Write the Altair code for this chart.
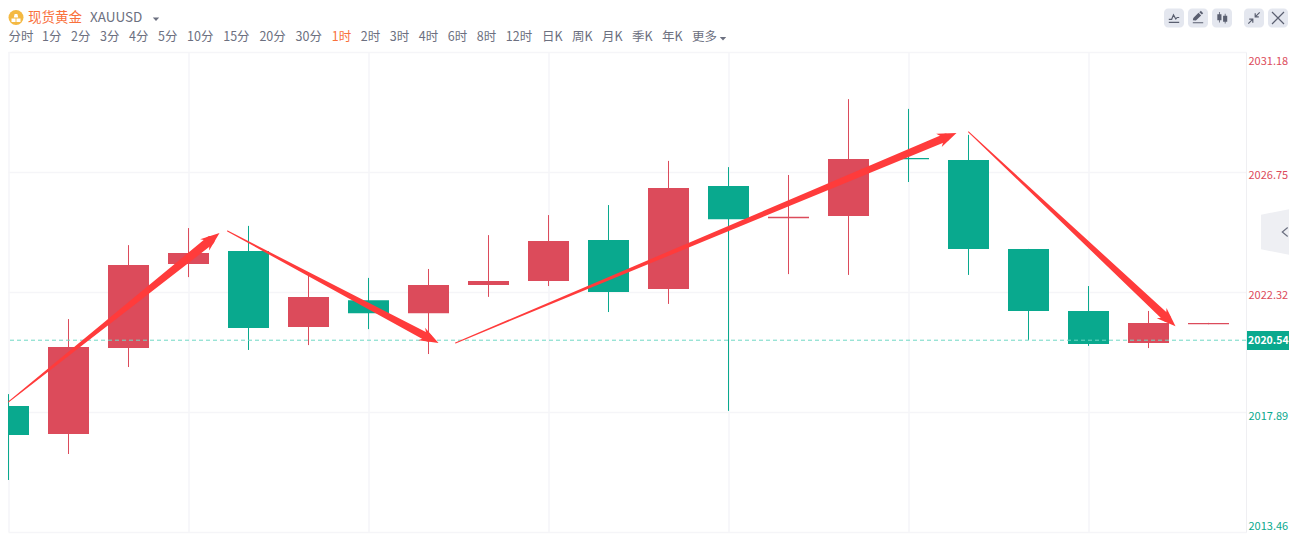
import math
import altair as alt
import pandas as pd

# ---- values ----
highs = [2018.55, 2021.32, 2024.05, 2024.68, 2024.76, 2022.95, 2022.84, 2023.17, 2024.42, 2025.16, 2025.53,
         2027.16, 2026.93, 2026.64, 2029.44, 2029.08, 2028.12, 2023.91, 2022.54, 2021.62, 2021.18]
lows = [2015.38, 2016.34, 2019.55, 2022.87, 2020.18, 2020.36, 2020.95, 2020.03, 2022.14, 2022.54, 2021.58,
        2021.88, 2017.93, 2022.98, 2022.95, 2026.38, 2022.95, 2020.55, 2020.33, 2020.25, 2021.13]
tops = [2018.11, 2020.29, 2023.32, 2023.76, 2023.83, 2022.14, 2022.02, 2022.58, 2022.73, 2024.20, 2024.24,
        2026.16, 2026.23, 2025.10, 2027.23, 2027.27, 2027.19, 2023.91, 2021.62, 2021.18, 2021.18]
bottoms = [2017.04, 2017.08, 2020.25, 2023.35, 2020.99, 2021.03, 2021.54, 2021.54, 2022.58, 2022.73, 2022.32,
           2022.43, 2025.01, 2025.04, 2025.13, 2027.22, 2023.91, 2021.62, 2020.40, 2020.44, 2021.13]
sides = ["d", "u", "u", "u", "d", "u", "d", "u", "u", "u", "d", "u", "d", "u", "u", "d", "d", "d", "d", "u", "u"]
price_ticks = [2031.18, 2026.75, 2022.32, 2017.89, 2013.46]
last_price = 2020.54
tabs = ["分时", "1分", "2分", "3分", "4分", "5分", "10分", "15分", "20分", "30分", "1时", "2时", "3时", "4时",
        "6时", "8时", "12时", "日K", "周K", "月K", "季K", "年K", "更多"]
active_tab = "1时"
# hand-drawn annotation arrows: (bar index, price) of tail, neck, tip
arrow_tail_i = [0.0, 3.65, 7.45, 16.0]
arrow_tail_p = [2018.26, 2024.57, 2020.44, 2028.23]
arrow_neck_i = [3.36, 6.99, 15.615, 19.30]
arrow_neck_p = [2024.22, 2020.64, 2028.02, 2021.37]
arrow_tip_i = [3.517, 7.167, 15.8, 19.45]
arrow_tip_p = [2024.50, 2020.44, 2028.19, 2021.06]
arrow_width = [9, 8, 8, 8]

RED, GREEN, ARROW = "#dc4b5b", "#09a98e", "#ff3b3b"
GRAY, ORANGE, ICON = "#6c7080", "#f9713c", "#5a5f70"
FONT = "Noto Sans CJK SC"
# page geometry: the svg starts at page (8, 8) and may reach page x = 1289
LEFT, TOP = 8, 52
PLOT_W, PLOT_H = 1238, 480
PX_PER_BAR, PX_PER_UNIT = 60, 480 / (price_ticks[0] - price_ticks[-1])

candles = pd.DataFrame({"i": range(len(highs)), "high": highs, "low": lows, "top": tops,
                        "bottom": bottoms, "side": sides})
color = alt.Color("side:N", scale=alt.Scale(domain=["u", "d"], range=[RED, GREEN]), legend=None)

# half a pixel of lead-in keeps the 1px wicks on whole pixels
x_start = -0.5 / PX_PER_BAR
x_scale = alt.Scale(domain=[x_start, x_start + PLOT_W / PX_PER_BAR], nice=False, zero=False, padding=0)
y_scale = alt.Scale(domain=[price_ticks[-1], price_ticks[0]], nice=False, zero=False)
xe = lambda f: alt.X(f, type="quantitative", scale=x_scale, axis=None)
ye = lambda f: alt.Y(f, type="quantitative", scale=y_scale, axis=None)
one = pd.DataFrame({"n": [0]})

layers = []
# grid + price axis
layers.append(alt.Chart(candles).mark_rule(opacity=0).encode(
    x=alt.X("i:Q", scale=x_scale, axis=alt.Axis(values=list(range(0, 19, 3)), grid=True, gridColor="#f5f5f8",
                                                 gridWidth=1.5, labels=False, ticks=False, domain=False, title=None,
                                                 translate=0)),
    y=alt.Y("high:Q", scale=y_scale, axis=alt.Axis(
        values=price_ticks, orient="right", grid=True, gridColor="#f5f5f8", gridWidth=1.5, ticks=False,
        domain=True, domainColor="#efeff2", title=None, format=".2f", labelPadding=2, labelFont=FONT,
        labelFontSize=11, labelOverlap=False, labelBound=False, labelFlush=False,
        labelOffset=alt.expr("datum.value>2030?9:datum.value<2014?-6:datum.value<2018?4:3"),
        labelColor=alt.expr(f"datum.value>{last_price}?'{RED}':'{GREEN}'"))),
))
# candles
layers.append(alt.Chart(candles).mark_rule(strokeWidth=1, clip=True).encode(x=xe("i"), y=ye("low"), y2="high", color=color))
layers.append(alt.Chart(candles).mark_bar(size=41, clip=True).encode(x=xe("i"), y=ye("bottom"), y2="top", color=color))
# last price line
layers.append(alt.Chart(pd.DataFrame({"p": [last_price]})).mark_rule(strokeDash=[4, 3], color="#6fd8c4", strokeWidth=1)
              .encode(y=ye("p")))

# arrows: tapered shaft + barbed head
HEAD = "M0 0 L.75 2 L.15 1.5 L-.15 1.5 L-.75 2 Z"
shaft = []
for a in range(4):
    shaft += [dict(a=a, o=0, i=arrow_tail_i[a], p=arrow_tail_p[a], s=1.0),
              dict(a=a, o=1, i=arrow_neck_i[a], p=arrow_neck_p[a], s=arrow_width[a])]
layers.append(alt.Chart(pd.DataFrame(shaft)).mark_trail(color=ARROW).encode(
    x=xe("i"), y=ye("p"), detail="a:N", order="o:Q", size=alt.Size("s:Q", scale=None, legend=None)))
for a in range(4):
    dx = (arrow_tip_i[a] - arrow_tail_i[a]) * PX_PER_BAR
    dy = (arrow_tip_p[a] - arrow_tail_p[a]) * PX_PER_UNIT
    heading = math.degrees(math.atan2(dx, dy)) % 360
    tip = pd.DataFrame({"i": [arrow_tip_i[a]], "p": [arrow_tip_p[a]]})
    layers.append(alt.Chart(tip).mark_point(shape=HEAD, size=19 ** 2, filled=True, fill=ARROW, opacity=1,
                                            strokeWidth=0, angle=heading).encode(x=xe("i"), y=ye("p")))


def text(s, px, py, size=12.5, col=GRAY, weight="normal", align="left"):
    return alt.Chart(one).mark_text(font=FONT, fontSize=size, color=col, align=align, baseline="middle",
                                    fontWeight=weight).encode(
        x=alt.value(px - LEFT), y=alt.value(py - TOP), text=alt.value(s))


def shape(path, px, py, r, fill=None, stroke=None, sw=1.2):
    kw = dict(shape=path, size=(2 * r) ** 2, opacity=1, strokeWidth=sw if stroke else 0)
    kw["filled"] = fill is not None
    if fill:
        kw["fill"] = fill
    if stroke:
        kw["stroke"] = stroke
    return alt.Chart(one).mark_point(**kw).encode(x=alt.value(px - LEFT), y=alt.value(py - TOP))


# last price badge
layers.append(alt.Chart(one).mark_rect(color=GREEN).encode(
    x=alt.value(PLOT_W + 1), x2=alt.value(PLOT_W + 43), y=alt.value(331 - TOP), y2=alt.value(350 - TOP)))
layers.append(text(f"{last_price:.2f}", 1248, 340.5, 10.5, "white", "bold"))

# header (the page margin keeps it below y = 8)
HEAD_Y = 18
layers.append(shape("circle", 16, HEAD_Y - .5, 7.5, fill="#f4b942"))
layers.append(shape("M-.3 -.9 L.3 -.9 L.5 -.1 L-.5 -.1 Z M-1 .1 L-.1 .1 L-.1 .9 L-1 .9 Z M.1 .1 L1 .1 L1 .9 L.1 .9 Z",
                    16, HEAD_Y, 4.5, fill="white"))
layers.append(text("现货黄金", 28, HEAD_Y, 13.5, ORANGE))
layers.append(text("XAUUSD", 90, HEAD_Y, 13.5, GRAY))
caret = "M-1 -.5 L1 -.5 L0 .6 Z"
layers.append(shape(caret, 156, HEAD_Y + 1, 3.2, fill=GRAY))

# period tabs laid out by label width
tab_x = 8.5
for t in tabs:
    layers.append(text(t, tab_x, 37, 12.5, ORANGE if t == active_tab else GRAY))
    tab_x += sum(8.2 if c == "K" else 7.2 if ord(c) < 128 else 13 for c in t) + 8.8 if t != tabs[0] else 33.5
layers.append(shape(caret, 723, 38.5, 3.2, fill=GRAY))

# toolbar buttons
for bx in (1164, 1188, 1212, 1244, 1268):
    layers.append(alt.Chart(one).mark_rect(color="#e4e7ef", cornerRadius=4).encode(
        x=alt.value(bx - LEFT), x2=alt.value(bx + 20 - LEFT), y=alt.value(8.5 - TOP), y2=alt.value(27.5 - TOP)))
layers.append(shape("M-1 .25 L-.45 .25 L-.1 -.6 L.35 .2 L.6 -.1 L1 -.1 M-1 .85 L1 .85", 1174, 18, 5.2, stroke=ICON))
layers.append(shape("M-1 .45 L-.9 .0 L.1 -1 L.6 -.5 L-.4 .5 Z M.25 -1.1 L.55 -1.4 L1 -.9 L.75 -.65 Z M-1 .8 L1 .8 L1 1 L-1 1 Z",
                    1198, 18, 5.2, fill=ICON))
layers.append(shape("M-.85 -.6 L-.1 -.6 L-.1 .5 L-.85 .5 Z M-.55 -1 L-.4 -1 L-.4 .9 L-.55 .9 Z M.2 -.3 L.95 -.3 L.95 .75 L.2 .75 Z M.5 -.7 L.65 -.7 L.65 1.1 L.5 1.1 Z",
                    1222, 17.5, 5.5, fill=ICON))
layers.append(shape("M.95 -.95 L.2 -.2 M.2 -.8 L.2 -.2 L.8 -.2 M-.95 .95 L-.2 .2 M-.8 .2 L-.2 .2 L-.2 .8", 1254, 18, 6, stroke=ICON))
layers.append(shape("M-1 -1 L1 1 M1 -1 L-1 1", 1278, 18, 6, stroke=ICON))

# collapsed side handle
layers.append(shape("M1 -1 L-1 -.62 L-1 .62 L1 1 Z", 1289, 232, 28, fill="#eeeff3"))
layers.append(shape("M.6 -1 L-.6 0 L.6 1", 1285, 232, 4.5, stroke=GRAY))

chart = alt.layer(*layers).resolve_axis(x="independent", y="independent").properties(
    width=PLOT_W, height=PLOT_H,
    padding={"left": 0, "top": TOP - 8, "right": 43, "bottom": 8},
    autosize=alt.AutoSizeParams(type="none"),
).configure_view(stroke=None)

chart.save("out.html", embed_options={"renderer": "svg", "actions": False})
